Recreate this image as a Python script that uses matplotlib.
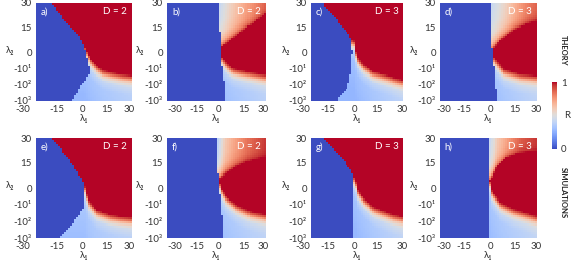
import numpy as np
import matplotlib
matplotlib.use("Agg")
import matplotlib.pyplot as plt
from matplotlib.cm import ScalarMappable
from matplotlib.colors import Normalize
from matplotlib.transforms import ScaledTranslation

plt.rcParams['font.family'] = ['Lato', 'DejaVu Sans']

W, H = 572, 267

# ---------------- axis / label values ----------------
x_ticks = [-30, -15, 0, 15, 30]
x_tick_labels = ['-30', '-15', '0', '15', '30']
y_ticks = [30, 15, 0, -10, -100, -1000]
y_tick_labels = ['30', '15', '0', '-10¹', '-10²', '-10³']
panel_letters = ['a)', 'b)', 'c)', 'd)', 'e)', 'f)', 'g)', 'h)']
panel_D = [2, 2, 3, 3, 2, 2, 3, 3]
row_names = ['THEORY', 'SIMULATIONS']

# ---------------- data (λ1, λ2) ----------------
# right edge of the R = 0 (blue) region
a_blue_l2 = [-1000, -500, -240, -100, -58, -30, -21, -14, -9.6, -6, -3, 0, 3, 7, 11.3, 15, 19.4, 25, 30]
a_blue_l1 = [-8, -6, -3.9, -1.5, 0.2, 2.5, 3.5, 3.5, 3.3, 2.6, 1.8, 1.0, 0.2, -1.8, -3.9, -8, -12.3, -16.5, -20.6]
b_blue_l2 = [-1000, -100, -32, -10, 0, 1.2, 10, 30]
b_blue_l1 = [5.1, 4.8, 4.1, 3.2, 2.4, 2.1, 1.9, 1.7]
c_blue_l2 = [-1000, -500, -190, -48, -8.6, 0.5, 6.6, 11.8, 19.8, 30]
c_blue_l1 = [-13.5, -11.3, -6.9, -4.8, -3.6, -3.0, -3.6, -5.9, -13.5, -22.4]
d_blue_l2 = [-1000, -100, -20, -5, 0, 10, 30]
d_blue_l1 = [4.7, 4.3, 3.5, 2.8, 2.0, 1.5, 1.4]
e_blue_l2 = [-1000, -760, -158, -32, -12.6, -5, 3, 9, 19, 30]
e_blue_l1 = [-15, -14, -7.7, -2.5, 0.6, 0.6, -0.4, -3.6, -10.8, -20.2]
f_blue_l2 = [-1000, -12.6, 6, 30]
f_blue_l1 = [3.9, 2.8, 0.7, 0.1]
g_blue_l2 = [-1000, -100, -10, 0, 5.8, 8.8, 12.8, 20.9, 30]
g_blue_l1 = [-2.5, -2.5, -2.5, -2.5, -2.5, -3.2, -5.4, -13.1, -21.9]
h_blue_l2 = [-1000, 30]
h_blue_l1 = [0.5, 0.3]

# lower edge of the R = 1 (red) region
a_low_l1 = [0, 1.7, 4, 8, 12, 18, 24, 30]
a_low_l2 = [4, 1, -4, -8.4, -13, -17.8, -23, -27]
b_low_l1 = [1.7, 3, 6.2, 10, 14.2, 22, 30]
b_low_l2 = [2.3, -3, -7, -10, -12.6, -18, -25]
c_low_l1 = [-4, -1.5, -0.3, 4, 10.6, 16, 21.6, 29.3]
c_low_l2 = [8, 7, -2.5, -7.7, -15, -21, -30, -48]
d_low_l1 = [1.8, 3, 9.2, 19.5, 30]
d_low_l2 = [1, -3.2, -11, -22, -28]
e_low_l1 = [0.6, 2.7, 7.9, 16.3, 23, 30]
e_low_l2 = [1, -7, -20, -39, -50, -58]
f_low_l1 = [1.3, 2.8, 5.8, 12, 20.6, 30]
f_low_l2 = [5, 0, -5, -10, -25, -39]
g_low_l1 = [-2.5, -1, 0.1, 4.5, 11.1, 22.1, 29.8]
g_low_l2 = [7, 6, -0.4, -6.4, -13.8, -35, -52]
h_low_l1 = [1.0, 1.9, 7.1, 15.4, 25.9, 30]
h_low_l2 = [4.4, -1.6, -8.6, -18, -36, -48]

# R far below the red region
a_floor_l1, a_floor_R = [0, 30], [0.28, 0.35]
b_floor_l1, b_floor_R = [0, 30], [0.28, 0.36]
c_floor_l1, c_floor_R = [0, 30], [0.27, 0.36]
d_floor_l1, d_floor_R = [0, 30], [0.28, 0.37]
e_floor_l1, e_floor_R = [0, 30], [0.30, 0.36]
f_floor_l1, f_floor_R = [0, 30], [0.29, 0.37]
g_floor_l1, g_floor_R = [0, 30], [0.28, 0.37]
h_floor_l1, h_floor_R = [0, 30], [0.29, 0.38]

# upper edge of the red wedge and R along the top row (panels b, d, f, h)
b_up_l1 = [1.7, 30]
b_up_l2 = [2.3, 23.6]
b_top_l1 = [1.7, 4, 8, 12, 18, 24, 30]
b_top_R = [0.42, 0.47, 0.56, 0.63, 0.72, 0.8, 0.88]
d_up_l1 = [1.8, 7.1, 15.4, 23.7, 30]
d_up_l2 = [1, 7.2, 13.4, 17.2, 19.2]
d_top_l1 = [1.4, 5, 10, 15, 20, 25, 30]
d_top_R = [0.42, 0.47, 0.56, 0.66, 0.75, 0.82, 0.87]
f_up_l1 = [1.3, 5.8, 12, 18.5, 30]
f_up_l2 = [5, 9, 13, 16, 19]
f_top_l1 = [0.5, 3, 5, 10, 20, 30]
f_top_R = [0.38, 0.5, 0.6, 0.7, 0.85, 0.95]
h_up_l1 = [1.0, 4.7, 10.9, 19.2, 29.5]
h_up_l2 = [4.4, 12.4, 18.4, 21.4, 22.4]
h_top_l1 = [0.5, 3, 5, 10, 15, 20, 30]
h_top_R = [0.42, 0.5, 0.6, 0.7, 0.8, 0.88, 0.95]

# transition profiles (in axis units)
low_s = [-3, -1.2, -0.7, -0.4, -0.2, 0]
low_p = [0, 0.05, 0.15, 0.4, 0.75, 1]
up_t = [0, 0.05, 0.15, 0.35, 0.6, 1]
up_mix = [0, 0.3, 0.6, 0.85, 0.95, 1]

panels = [
    dict(blue=(a_blue_l1, a_blue_l2), low=(a_low_l1, a_low_l2), floor=(a_floor_l1, a_floor_R), up=None),
    dict(blue=(b_blue_l1, b_blue_l2), low=(b_low_l1, b_low_l2), floor=(b_floor_l1, b_floor_R),
         up=(b_up_l1, b_up_l2, b_top_l1, b_top_R)),
    dict(blue=(c_blue_l1, c_blue_l2), low=(c_low_l1, c_low_l2), floor=(c_floor_l1, c_floor_R), up=None),
    dict(blue=(d_blue_l1, d_blue_l2), low=(d_low_l1, d_low_l2), floor=(d_floor_l1, d_floor_R),
         up=(d_up_l1, d_up_l2, d_top_l1, d_top_R)),
    dict(blue=(e_blue_l1, e_blue_l2), low=(e_low_l1, e_low_l2), floor=(e_floor_l1, e_floor_R), up=None),
    dict(blue=(f_blue_l1, f_blue_l2), low=(f_low_l1, f_low_l2), floor=(f_floor_l1, f_floor_R),
         up=(f_up_l1, f_up_l2, f_top_l1, f_top_R)),
    dict(blue=(g_blue_l1, g_blue_l2), low=(g_low_l1, g_low_l2), floor=(g_floor_l1, g_floor_R), up=None),
    dict(blue=(h_blue_l1, h_blue_l2), low=(h_low_l1, h_low_l2), floor=(h_floor_l1, h_floor_R),
         up=(h_up_l1, h_up_l2, h_top_l1, h_top_R)),
]


# ---------------- λ2 axis: linear above -10, log below ----------------
def fwd(y):
    y = np.asarray(y, float)
    return np.where(y >= -10, 3 + y / 10.0, 3 - np.log10(np.maximum(-y, 10)))


def inv(v):
    v = np.asarray(v, float)
    return np.where(v >= 2, (v - 3) * 10.0, -10 ** (3 - np.minimum(v, 2)))


def field(p, nx=48, nv=48):
    xe = np.linspace(-30, 30, nx + 1)
    ve = np.linspace(0, 6, nv + 1)
    xc = 0.5 * (xe[:-1] + xe[1:])
    vc = 0.5 * (ve[:-1] + ve[1:])
    X, V = np.meshgrid(xc, vc)
    ll1, ll2 = p['low']
    low_v = np.interp(xc, ll1, fwd(ll2))[None, :]
    prof = np.interp(V - low_v, low_s, low_p)
    fl = np.interp(xc, *p['floor'])[None, :]
    R = fl + (1 - fl) * prof
    if p['up'] is not None:
        ul1, ul2, tl1, tR = p['up']
        up_v = np.interp(xc, ul1, fwd(ul2))[None, :]
        t = np.clip((V - up_v) / (6 - up_v), 0, 1)
        top = np.interp(xc, tl1, tR)[None, :]
        Rup = 1 - np.interp(t, up_t, up_mix) * (1 - top)
        R = np.minimum(R, Rup)
    bl1, bl2 = p['blue']
    bx = np.interp(vc, fwd(bl2), bl1)[:, None]
    R = np.where(X < bx, 0.0, R)
    return xe, inv(ve), R


cmap = plt.get_cmap('coolwarm')
fig = plt.figure(figsize=(W / 100, H / 100), dpi=100)

cols = [(36, 132), (167, 266), (311, 403), (440, 537)]
rows = [(3, 101), (138, 238)]
# horizontal nudges (pixels) of the x tick labels, as placed in the original figure
xlab_shift = [[-13.5, -3, -1, -1, -3],
              [8, 5.5, 1.5, 2.5, -2.5],
              [-8.5, -6, -2.5, -3, -1],
              [3.5, 0, 1.5, 2.2, -1]]
tick_color = '#333333'

for i, p in enumerate(panels):
    r, c = divmod(i, 4)
    x0, x1 = cols[c]
    y0, y1 = rows[r]
    ax = fig.add_axes([x0 / W, 1 - y1 / H, (x1 - x0) / W, (y1 - y0) / H])
    ax.set_yscale('function', functions=(fwd, inv))
    xe, ye, R = field(p)
    ax.pcolormesh(xe, ye, R, cmap=cmap, vmin=0, vmax=1, shading='flat', rasterized=True)
    ax.set_xlim(-30, 30)
    ax.set_ylim(-1000, 30)
    ax.set_xticks(x_ticks)
    ax.set_xticklabels(x_tick_labels)
    ax.set_yticks(y_ticks)
    ax.set_yticklabels(y_tick_labels)
    ax.minorticks_off()
    ax.tick_params(length=0, labelsize=7, colors=tick_color, pad=3)
    for lab, dx in zip(ax.get_xticklabels(), xlab_shift[c]):
        lab.set_transform(lab.get_transform() + ScaledTranslation(dx / 100, 0, fig.dpi_scale_trans))
    for s in ax.spines.values():
        s.set_visible(False)
    ax.set_xlabel('λ₁', fontsize=7, color=tick_color, labelpad=0)
    ax.text(-0.27, 0.52, 'λ₂', transform=ax.transAxes, fontsize=7, color=tick_color,
            ha='center', va='center')
    ax.text(0.05, 0.91, panel_letters[i], transform=ax.transAxes, fontsize=7,
            color='white', ha='left', va='center')
    ax.text(0.95, 0.91, 'D = %d' % panel_D[i], transform=ax.transAxes, fontsize=7,
            color='white', ha='right', va='center')

# colorbar
cax = fig.add_axes([552 / W, 1 - 149 / H, 5 / W, 67 / H])
cb = fig.colorbar(ScalarMappable(norm=Normalize(0, 1), cmap=cmap), cax=cax, ticks=[0, 1])
cb.outline.set_visible(False)
cb.ax.tick_params(length=0, labelsize=7, colors=tick_color, pad=3)
cb.ax.set_yticklabels(['0', '1'])
fig.text(567 / W, 1 - 116 / H, 'R', fontsize=7, color=tick_color, ha='center', va='center')

fig.text(563 / W, 1 - 50 / H, row_names[0], rotation=-90, fontsize=5.5, fontweight='bold',
         color='#222222', ha='center', va='center')
fig.text(563 / W, 1 - 193 / H, row_names[1], rotation=-90, fontsize=5.5, fontweight='bold',
         color='#222222', ha='center', va='center')

fig.savefig('out.png', dpi=100)
